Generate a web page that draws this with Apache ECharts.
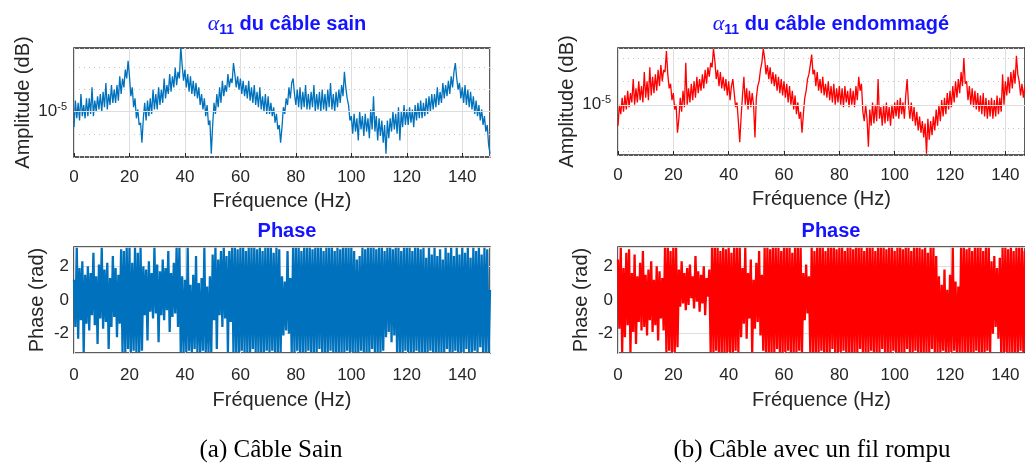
<!DOCTYPE html>
<html>
<head>
<meta charset="utf-8">
<script src="https://cdn.jsdelivr.net/npm/echarts@6/dist/echarts.min.js"></script>
<style>
html, body { margin: 0; padding: 0; background: #fff; }
#main { width: 1025px; height: 467px; }
</style>
</head>
<body>
<div id="main"></div>
<script>
// sampling of the spectra (Hz)
var freqStep = 0.5;

// amplitude, given as exponent of 10 (-5 -> 10^-5), one value every 0.5 Hz from 0 to 150 Hz
var ampSain = [
-5.7,-4.5,-5.3,-4.6,-5.4,-4.2,-5.2,-4.7,-5.3,-4.4,
-5.2,-4.4,-5.1,-3.9,-5.2,-4.5,-5.0,-4.3,-4.9,-4.2,
-5.0,-4.1,-4.8,-3.7,-4.9,-4.2,-4.7,-3.8,-4.6,-4.0,
-4.6,-3.8,-4.5,-3.4,-4.2,-3.5,-3.9,-3.1,-3.5,-2.7,
-3.4,-4.3,-3.9,-4.8,-4.4,-5.3,-4.9,-5.6,-5.5,-6.4,
-5.3,-4.6,-5.4,-4.5,-5.2,-4.4,-5.1,-4.0,-4.9,-4.2,
-4.9,-3.9,-4.7,-4.0,-4.6,-3.5,-4.4,-3.8,-4.2,-3.3,
-4.1,-3.4,-3.9,-3.0,-3.8,-3.2,-3.5,-2.05,-2.9,-3.6,
-3.1,-3.9,-3.3,-4.1,-3.4,-4.2,-3.6,-4.3,-3.7,-4.4,
-3.9,-4.7,-4.2,-4.9,-4.4,-5.2,-4.7,-5.6,-5.4,-6.9,
-5.6,-4.6,-5.1,-4.2,-4.8,-3.9,-4.6,-3.6,-4.3,-3.8,
-4.1,-3.3,-3.9,-3.5,-3.7,-2.8,-3.3,-3.9,-3.4,-4.0,
-3.5,-4.2,-3.6,-4.3,-3.8,-4.4,-3.6,-4.5,-3.9,-4.6,
-3.8,-4.7,-4.1,-4.8,-3.9,-4.9,-4.3,-5.0,-4.2,-5.1,
-4.3,-5.1,-4.6,-5.2,-4.8,-5.5,-5.1,-5.8,-5.6,-6.4,
-5.7,-4.8,-5.1,-4.4,-4.7,-3.9,-4.4,-3.7,-3.5,-4.2,
-4.7,-4.0,-4.8,-3.9,-4.9,-4.1,-4.8,-3.8,-4.9,-4.2,
-4.9,-4.1,-4.8,-3.8,-5.0,-4.2,-4.9,-4.1,-5.0,-4.0,
-4.9,-4.2,-5.0,-4.0,-4.8,-3.7,-4.9,-4.2,-5.0,-4.1,
-4.8,-4.0,-4.6,-3.8,-4.3,-3.2,-3.9,-4.4,-4.7,-5.4,
-5.2,-6.0,-5.1,-5.9,-5.3,-6.3,-5.0,-5.8,-5.2,-6.1,
-5.1,-5.9,-5.3,-6.2,-4.9,-5.8,-4.3,-5.9,-5.2,-6.3,
-5.3,-6.1,-5.4,-6.4,-5.6,-6.9,-5.4,-6.2,-5.3,-5.9,
-5.0,-5.8,-5.1,-6.0,-4.8,-6.3,-5.0,-5.7,-4.7,-5.6,
-4.9,-5.6,-4.8,-5.5,-4.9,-5.7,-4.7,-5.4,-4.6,-5.3,
-4.5,-5.3,-4.6,-5.2,-4.4,-5.1,-4.3,-5.0,-4.2,-4.9,
-4.2,-4.8,-3.9,-4.7,-4.1,-4.6,-3.7,-4.4,-3.8,-4.3,
-3.6,-4.2,-3.4,-3.9,-3.2,-2.8,-3.5,-4.0,-3.7,-4.4,
-3.9,-4.6,-3.8,-4.7,-4.0,-4.8,-4.1,-4.9,-4.3,-5.1,
-4.5,-5.2,-4.7,-5.4,-4.9,-5.6,-5.2,-5.9,-5.6,-6.5,
-6.9
];

var ampEndo = [
-5.9,-5.0,-5.4,-4.7,-5.3,-4.6,-5.2,-4.4,-5.1,-4.5,
-4.9,-3.9,-5.0,-4.3,-4.9,-4.0,-4.8,-4.2,-4.9,-3.6,
-4.7,-4.0,-4.8,-3.4,-4.6,-3.8,-4.5,-3.7,-4.4,-3.5,
-4.2,-3.3,-4.0,-3.5,-3.6,-2.7,-3.7,-4.3,-4.1,-4.8,
-4.5,-5.2,-5.0,-6.2,-5.6,-4.7,-5.3,-4.4,-5.1,-3.2,
-5.0,-4.3,-4.9,-4.1,-4.8,-4.0,-4.7,-3.8,-4.5,-3.9,
-4.4,-3.7,-4.3,-3.5,-4.1,-3.4,-3.8,-3.2,-3.4,-2.6,
-3.1,-3.9,-3.5,-4.2,-3.6,-4.3,-3.8,-4.4,-3.9,-4.6,
-4.0,-4.8,-4.2,-3.9,-4.5,-5.1,-4.9,-5.7,-6.6,-5.5,
-4.6,-3.8,-5.0,-4.3,-5.2,-4.4,-5.1,-4.5,-5.0,-6.4,
-4.7,-4.2,-4.0,-3.5,-3.2,-2.6,-3.0,-3.7,-3.3,-3.9,
-3.4,-4.1,-3.6,-4.2,-3.7,-4.4,-3.8,-4.5,-3.9,-4.6,
-4.0,-4.7,-4.1,-4.9,-4.2,-5.0,-4.4,-5.2,-4.6,-5.4,
-4.9,-5.6,-5.3,-6.2,-5.4,-4.7,-4.4,-3.9,-3.7,-3.3,
-2.85,-3.7,-3.5,-4.2,-3.6,-4.4,-3.9,-4.5,-3.8,-4.6,
-4.1,-4.7,-4.0,-4.8,-4.2,-4.9,-4.1,-5.0,-4.3,-4.9,
-4.2,-5.0,-4.3,-5.1,-4.2,-4.9,-4.4,-5.1,-4.3,-5.0,
-4.4,-5.1,-4.2,-4.8,-3.8,-4.4,-4.1,-5.3,-5.7,-5.0,
-5.6,-6.8,-5.2,-5.9,-4.9,-5.8,-5.0,-5.7,-3.9,-5.6,
-5.1,-5.9,-5.0,-5.8,-4.9,-5.7,-5.1,-5.9,-5.0,-5.6,
-4.9,-5.5,-4.8,-5.6,-4.7,-5.4,-4.9,-5.6,-4.6,-3.9,
-5.0,-5.6,-4.9,-5.7,-5.1,-5.9,-5.3,-6.1,-5.5,-6.2,
-5.7,-6.4,-5.8,-7.1,-5.6,-6.5,-5.7,-6.3,-5.5,-6.1,
-5.2,-5.9,-5.0,-5.7,-4.8,-5.5,-4.7,-5.4,-4.5,-5.2,
-4.4,-5.1,-4.2,-4.9,-4.0,-4.7,-3.9,-4.5,-3.6,-4.2,
-3.0,-4.1,-4.0,-4.8,-4.2,-5.0,-4.3,-5.1,-4.4,-5.2,
-4.5,-5.3,-4.6,-5.4,-4.5,-5.5,-4.7,-5.6,-4.8,-5.5,
-4.7,-5.6,-4.8,-5.5,-4.6,-5.4,-4.7,-5.3,-3.7,-5.0,
-4.0,-4.6,-3.8,-4.5,-3.6,-4.3,-3.5,-4.1,-2.9,-3.7,
-4.0,-4.6,-4.1,-4.7,-4.2,-4.8,-4.3,-4.9,-4.4,-5.0,
-4.9
];

// phase (rad), one value every 0.5 Hz
var phaseSain = [
1.2,-1.6,3.1,-2.3,1.9,-1.2,2.3,-3.1,1.5,-1.4,
2.0,-1.8,1.6,-0.9,2.8,-1.5,1.4,-2.6,2.1,-1.1,
3.1,-1.7,1.8,-1.3,2.2,-2.9,1.3,-1.6,2.6,-1.0,
1.9,-2.2,1.5,-1.4,3.0,-3.1,2.9,-3.1,3.1,-2.9,
3.1,-3.1,2.2,-3.0,3.1,-3.1,2.8,-3.1,3.1,-3.0,
2.0,-0.9,1.8,-2.4,2.3,-0.7,1.6,-1.1,3.1,-0.8,
2.1,-2.5,1.7,-0.9,2.4,-1.2,1.9,-0.6,2.9,-1.9,
1.6,-1.0,2.2,-0.8,3.1,-1.6,3.1,-3.1,1.4,-3.1,
1.2,-3.1,3.1,-3.0,0.9,-3.1,1.5,-2.9,2.6,-3.1,
1.0,-3.1,1.3,-3.0,3.1,-3.1,0.8,-3.1,1.4,-3.1,
2.7,-1.2,3.1,-2.9,2.4,-0.9,2.9,-1.6,3.1,-1.1,
2.6,-3.1,2.9,-1.3,3.1,-3.1,3.1,-3.1,3.0,-3.1,
3.1,-3.0,3.1,-3.1,2.9,-3.1,3.1,-3.1,3.1,-2.9,
3.1,-3.1,3.0,-3.1,3.1,-3.1,2.9,-3.1,3.1,-3.0,
3.1,-3.1,3.1,-3.0,2.8,-3.1,3.1,-3.1,3.0,-3.1,
1.4,-2.1,1.1,-1.8,2.9,-2.0,1.3,-3.1,3.1,-3.1,
3.1,-3.0,3.1,-3.1,2.9,-3.1,3.1,-3.1,3.1,-3.0,
3.1,-3.1,3.0,-3.1,3.1,-3.1,3.1,-2.9,3.1,-3.1,
2.9,-3.1,3.1,-3.1,3.1,-3.0,3.1,-3.1,2.9,-3.1,
3.1,-3.1,3.0,-3.1,3.1,-3.1,3.1,-3.0,3.1,-3.1,
3.1,-3.1,2.9,-3.1,2.4,-3.1,2.6,-3.0,3.1,-3.1,
3.0,-3.1,3.1,-3.1,3.1,-2.9,3.1,-3.1,3.0,-3.1,
3.1,-3.1,3.1,-3.0,2.9,-2.2,3.1,-1.9,3.1,-2.5,
3.0,-2.1,3.1,-3.1,3.1,-3.1,2.9,-3.1,3.1,-3.0,
3.1,-3.1,3.1,-3.1,2.9,-3.1,3.1,-3.0,3.1,-3.1,
3.0,-3.1,3.1,-3.1,2.5,-3.1,3.1,-3.0,2.7,-3.1,
3.1,-3.1,2.6,-3.1,3.0,-3.1,2.4,-3.1,3.1,-2.9,
2.8,-3.1,3.1,-3.1,2.6,-3.0,3.1,-3.1,2.7,-3.1,
3.1,-3.1,2.8,-2.9,3.1,-3.1,2.5,-3.1,3.1,-3.0,
2.9,-3.1,3.1,-2.8,2.7,-3.1,3.1,-3.1,3.0,-3.1,
0.6
];

var phaseEndo = [
2.4,-1.7,3.1,-3.1,1.9,-2.2,2.8,-1.5,3.0,-3.1,
1.6,-1.9,2.7,-2.6,1.4,-1.3,2.2,-1.8,2.9,-1.6,
1.5,-2.1,1.8,-1.2,2.3,-1.9,1.2,-1.5,2.0,-2.4,
1.7,-1.1,1.3,-1.8,3.1,-3.1,3.1,-3.0,2.9,-3.1,
3.1,-3.1,3.1,-2.8,1.8,-0.4,2.3,-0.2,1.6,-0.6,
1.9,-0.3,2.1,0.1,1.4,-0.5,2.6,-0.1,1.7,-0.7,
1.5,-0.2,2.0,-0.9,1.3,0.2,1.8,-3.1,3.1,-3.1,
3.1,-3.0,3.1,-3.1,2.9,-3.1,3.1,-3.1,3.0,-3.1,
3.1,-3.1,2.8,-3.1,3.1,-3.0,3.1,-3.1,3.1,-2.2,
1.9,-1.4,3.1,-2.3,1.6,-1.1,2.4,-3.1,1.2,-1.7,
2.2,-1.3,2.9,-2.1,1.5,-3.0,3.1,-3.1,3.1,-3.1,
3.0,-3.1,3.1,-3.1,3.1,-2.9,3.1,-3.1,2.9,-3.1,
3.1,-3.1,3.1,-3.0,3.1,-3.1,2.8,-3.1,3.1,-3.1,
3.1,-3.0,3.1,-3.1,1.6,-1.2,2.1,-0.8,1.4,-3.1,
3.1,-3.1,2.9,-3.1,3.1,-3.1,3.1,-3.0,3.1,-3.1,
2.9,-3.1,3.1,-3.1,3.1,-2.9,3.1,-3.1,3.0,-3.1,
3.1,-3.1,3.1,-3.0,2.9,-3.1,3.1,-3.1,3.1,-3.1,
3.0,-3.1,3.1,-3.1,3.1,-2.9,3.1,-3.1,2.9,-3.1,
3.1,-3.1,3.1,-3.0,3.1,-3.1,2.9,-3.1,3.1,-3.1,
3.1,-2.9,3.1,-3.1,3.0,-3.1,3.1,-3.1,3.1,-3.0,
2.9,-3.1,3.1,-3.1,3.1,-3.1,3.0,-3.1,3.1,-2.9,
3.1,-3.1,2.9,-3.1,3.1,-3.0,3.1,-3.1,3.1,-3.1,
3.0,-3.1,3.1,-3.1,2.8,-3.1,3.1,-2.9,3.1,-3.1,
2.6,-3.1,1.4,-3.1,0.9,-3.0,1.8,-3.1,0.6,-3.1,
1.5,-3.1,3.1,-3.0,1.1,-3.1,0.8,-3.1,3.1,-3.1,
3.1,-3.1,3.0,-3.1,3.1,-3.1,2.9,-3.1,3.1,-3.0,
3.1,-3.1,3.1,-3.1,2.9,-3.1,3.1,-3.0,3.1,-3.1,
2.3,-2.0,2.6,-1.6,1.9,-2.3,2.5,-3.1,3.1,-3.1,
3.1,-3.1,3.0,-3.1,3.1,-3.1,2.9,-3.1,3.1,-3.1,
3.1,-3.0,3.1,-3.1,2.9,-3.1,3.1,-3.1,3.1,-3.1,
-0.5
];

var titles = ['du câble sain', 'du câble endommagé'];
var captions = ['(a) Câble Sain', '(b) Câble avec un fil rompu'];

var blue = '#0072bd';
var red = '#ff0000';
var titleColor = '#1414ff';
var txt = '#262626';
var font = '"Liberation Sans", Arial, sans-serif';

function pairs(values) {
    return values.map(function (v, i) { return [i * freqStep, v]; });
}

// right-hand plots are cut by the page edge: the visible part stops near 147 Hz
function xAxisFor(gi, gap, labelGap, xmax) {
    return {
        gridIndex: gi, type: 'value', min: 0, max: xmax, interval: 20,
        name: 'Fréquence (Hz)', nameLocation: 'middle', nameGap: gap,
        nameTextStyle: { fontSize: 20, color: txt, fontFamily: font },
        axisLine: { show: false },
        axisTick: { inside: true, length: 4, lineStyle: { color: txt } },
        axisLabel: { fontSize: 17, color: txt, fontFamily: font, margin: labelGap, showMaxLabel: false },
        splitLine: { show: true, lineStyle: { color: '#dedede', width: 1 } }
    };
}

function ampAxis(gi, lo, hi) {
    return {
        gridIndex: gi, type: 'value', min: lo, max: hi,
        name: 'Amplitude (dB)', nameLocation: 'middle', nameGap: 41,
        nameTextStyle: { fontSize: 20, color: txt, fontFamily: font },
        axisLine: { show: false },
        axisTick: { show: false },
        axisLabel: {
            color: txt, fontSize: 17, fontFamily: font, margin: 7,
            formatter: function (v) { return v === -5 ? '10{sup|-5}' : ''; },
            rich: { sup: { fontSize: 11, color: txt, fontFamily: font, padding: [0, 0, 9, 0] } }
        },
        splitLine: { show: true, lineStyle: { color: '#c4c4c4', type: [1, 4], width: 1 } }
    };
}

function phaseAxis(gi) {
    return {
        gridIndex: gi, type: 'value', min: -Math.PI, max: Math.PI, splitNumber: 3,
        name: 'Phase (rad)', nameLocation: 'middle', nameGap: 27,
        nameTextStyle: { fontSize: 20, color: txt, fontFamily: font },
        axisLine: { show: false },
        axisTick: { show: false },
        axisLabel: { color: txt, fontSize: 17, fontFamily: font, margin: 5, showMinLabel: false, showMaxLabel: false },
        splitLine: { show: true, lineStyle: { color: '#dedede', width: 1 } }
    };
}

function lineSeries(gi, values, color, width) {
    return {
        type: 'line', xAxisIndex: gi, yAxisIndex: gi, data: pairs(values),
        showSymbol: false, symbol: 'none', silent: true, animation: false, z: 3,
        lineStyle: { color: color, width: width }
    };
}

function gridLine10(gi) {
    // solid major line at 10^-5
    return {
        type: 'line', xAxisIndex: gi, yAxisIndex: gi, data: [], z: 1, silent: true,
        markLine: {
            silent: true, symbol: 'none', animation: false,
            label: { show: false },
            lineStyle: { color: '#dedede', type: 'solid', width: 1 },
            data: [{ yAxis: -5 }]
        }
    };
}

function titleFor(x, y, text) {
    return {
        text: text, left: x, top: y, textAlign: 'center',
        textStyle: {
            fontSize: 20, fontWeight: 'bold', color: titleColor, fontFamily: font,
            rich: {
                a: { fontSize: 22, fontStyle: 'italic', fontWeight: 'normal', fontFamily: '"Liberation Serif", serif', color: titleColor },
                s: { fontSize: 14, fontWeight: 'bold', fontFamily: font, color: titleColor, padding: [12, 0, 0, 0] }
            }
        }
    };
}

var gridBox = { show: true, borderColor: txt, borderWidth: 1.5, backgroundColor: '#fff' };

option = {
    backgroundColor: '#fff',
    animation: false,
    title: [
        titleFor(282, 6, '{a|α}{s|11} ' + titles[0]),
        titleFor(826, 6, '{a|α}{s|11} ' + titles[1]),
        titleFor(282, 216, 'Phase'),
        titleFor(826, 216, 'Phase')
    ],
    grid: [
        Object.assign({ left: 74, top: 48, width: 416, height: 109 }, gridBox),
        Object.assign({ left: 74, top: 247, width: 416, height: 106 }, gridBox),
        Object.assign({ left: 618, top: 48, width: 408, height: 107 }, gridBox),
        Object.assign({ left: 618, top: 247, width: 408, height: 106 }, gridBox)
    ],
    xAxis: [xAxisFor(0, 34, 12, 150), xAxisFor(1, 37, 14, 150), xAxisFor(2, 34, 12, 147.1), xAxisFor(3, 37, 14, 147.1)],
    yAxis: [ampAxis(0, -7.05, -2.12), phaseAxis(1), ampAxis(2, -7.15, -2.57), phaseAxis(3)],
    series: [
        gridLine10(0), gridLine10(2),
        lineSeries(0, ampSain, blue, 1.3),
        lineSeries(1, phaseSain, blue, 2.3),
        lineSeries(2, ampEndo, red, 1.3),
        lineSeries(3, phaseEndo, red, 2.3)
    ],
    graphic: [
        { type: 'text', x: 271, y: 450, style: { text: captions[0], font: '25px "Liberation Serif", serif', fill: '#000', textAlign: 'center', textVerticalAlign: 'middle' } },
        { type: 'text', x: 812, y: 450, style: { text: captions[1], font: '25px "Liberation Serif", serif', fill: '#000', textAlign: 'center', textVerticalAlign: 'middle' } }
    ]
};

var myChart = echarts.init(document.getElementById('main'));
myChart.setOption(option);
</script>
</body>
</html>
